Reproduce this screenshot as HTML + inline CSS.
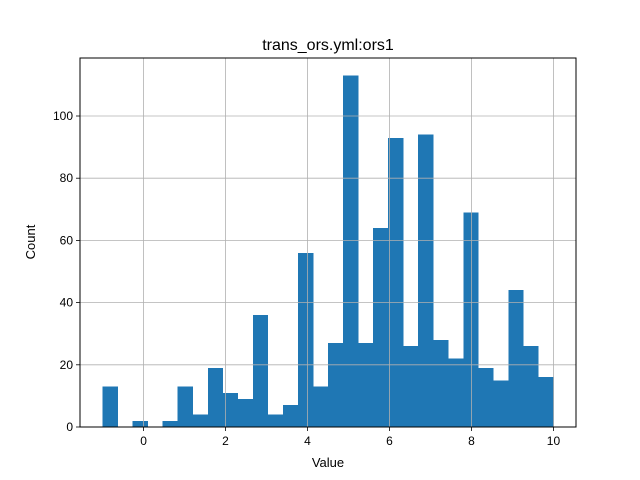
<!DOCTYPE html>
<html><head><meta charset="utf-8"><style>body{margin:0;background:#fff}svg{display:block;font-family:"Liberation Sans","DejaVu Sans",sans-serif}</style></head>
<body>
<svg id="chart" width="640" height="480">
<rect width="640" height="480" fill="#fff"/>
<text x="328" y="50" font-size="16" text-anchor="middle">trans_ors.yml:ors1</text>
<g id="bars" shape-rendering="crispEdges"></g><g id="grid"></g><g id="ticks"></g>
<rect x="80" y="58" width="496" height="369" fill="none" stroke="#000" stroke-width="1"/>
<text x="328" y="467" font-size="13" text-anchor="middle">Value</text>
<text x="35" y="242" font-size="13" text-anchor="middle" transform="rotate(-90 35 242)">Count</text>
</svg>
<script>
const counts=[13,0,2,0,2,13,4,19,11,9,36,4,7,56,13,27,113,27,64,93,26,94,28,22,69,19,15,44,26,16];
const binMin=-1, binMax=10;
const xTicks=[0,2,4,6,8,10];
const yTicks=[0,20,40,60,80,100];
const L=80,R=576,T=58,B=427;
const xmin=-1.55,xmax=10.55,ymax=118.65;
const X=v=>L+(v-xmin)/(xmax-xmin)*(R-L);
const Y=v=>B-v/ymax*(B-T);
const NS='http://www.w3.org/2000/svg';
const bars=document.getElementById('bars'),grid=document.getElementById('grid'),ticks=document.getElementById('ticks');
const w=(binMax-binMin)/counts.length;
counts.forEach((c,i)=>{if(!c)return;const r=document.createElementNS(NS,'rect');
r.setAttribute('x',X(binMin+i*w));r.setAttribute('width',X(binMin+(i+1)*w)-X(binMin+i*w)+0.3);
r.setAttribute('y',Y(c));r.setAttribute('height',B-Y(c));r.setAttribute('fill','#1f77b4');


bars.appendChild(r);});
function line(g,x1,y1,x2,y2,s){const l=document.createElementNS(NS,'line');l.setAttribute('x1',x1);l.setAttribute('y1',y1);l.setAttribute('x2',x2);l.setAttribute('y2',y2);l.setAttribute('stroke',s);l.setAttribute('stroke-width',0.8);g.appendChild(l);return l;}
function txt(x,y,t,a){const e=document.createElementNS(NS,'text');e.setAttribute('x',x);e.setAttribute('y',y);e.setAttribute('font-size',12);e.setAttribute('text-anchor',a);e.textContent=t;ticks.appendChild(e);return e;}
xTicks.forEach(v=>{const x=X(v);const g=line(grid,x,T,x,B,'#b0b0b0');


line(ticks,x,B,x,B+4,'#000');const t=txt(x,B+18,String(v),'middle');

});
yTicks.forEach(v=>{const y=Y(v);const g=line(grid,L,y,R,y,'#b0b0b0');


line(ticks,L-4,y,L,y,'#000');const t=txt(L-7,y+4,String(v),'end');

});
</script>
</body></html>
